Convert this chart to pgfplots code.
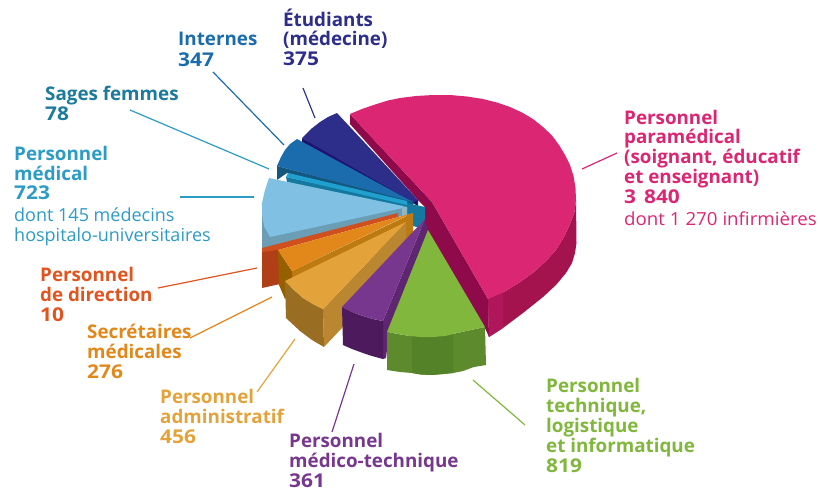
\documentclass[border=0pt]{standalone}
\usepackage{pgfplots}
\pgfplotsset{compat=1.18}
\usepackage{fontspec}
\setmainfont{Open Sans}
\newfontfamily\numfont[FakeStretch=1.1,BoldFont={Open Sans Bold}]{Open Sans}
\newfontfamily\widefont[FakeStretch=1.04]{Open Sans}
\definecolor{cpink}{HTML}{DA2673}
\definecolor{cpinkw}{HTML}{8E0A4B}
\definecolor{cpinko}{HTML}{A5134F}
\definecolor{cpinkl}{HTML}{B0165A}
\definecolor{cgreen}{HTML}{80B73C}
\definecolor{cgreenw}{HTML}{548228}
\definecolor{cgreenl}{HTML}{5C8A2C}
\definecolor{cpurple}{HTML}{78378E}
\definecolor{cpurplew}{HTML}{4D1A5E}
\definecolor{cpurples}{HTML}{5E2570}
\definecolor{cadm}{HTML}{E4A33A}
\definecolor{cadmw}{HTML}{996D22}
\definecolor{cadms}{HTML}{BA8730}
\definecolor{csec}{HTML}{E2881B}
\definecolor{csecw}{HTML}{966000}
\definecolor{csecs}{HTML}{BC7A10}
\definecolor{cdir}{HTML}{CF4F1E}
\definecolor{cdirw}{HTML}{B03F17}
\definecolor{cmed}{HTML}{80C1E3}
\definecolor{cmedw}{HTML}{6B9DB5}
\definecolor{ccap}{HTML}{8FB5C9}
\definecolor{csf}{HTML}{1FA0CF}
\definecolor{csft}{HTML}{14789F}
\definecolor{cint}{HTML}{1B6CAD}
\definecolor{cintw}{HTML}{14587F}
\definecolor{cetu}{HTML}{2D2D8A}
\definecolor{cetuw}{HTML}{1E1470}
\definecolor{tmed}{HTML}{2C9BC5}
\definecolor{tsf}{HTML}{1C7A9C}
\definecolor{tint}{HTML}{1B6CAD}
\definecolor{tdir}{HTML}{E2541F}
\definecolor{tsec}{HTML}{E2881B}
\newcommand{\B}[3]{\node[anchor=base west,inner sep=0pt,text=#1,font=\fontsize{18.8}{20}\selectfont\bfseries] at (axis cs:#2) {#3};}
\newcommand{\N}[3]{\node[anchor=base west,inner sep=0pt,text=#1,font=\fontsize{19}{20}\numfont\bfseries] at (axis cs:#2) {#3};}
\newcommand{\R}[3]{\node[anchor=base west,inner sep=0pt,text=#1,font=\fontsize{18}{20}\selectfont] at (axis cs:#2) {#3};}
\tikzset{lead/.style={line width=1.2pt}}
\begin{document}
\begin{tikzpicture}[x=1pt,y=1pt]
\useasboundingbox (0,0) rectangle (820,491);
\begin{axis}[at={(0,0)},anchor=south west,width=820pt,height=491pt,scale only axis,
  xmin=0,xmax=820,ymin=0,ymax=491,y dir=reverse,hide axis,clip=false,no markers,
  every axis plot/.append style={draw=none,line width=0pt}]
% pink
\addplot[fill=cpinkw] coordinates {(350,114)(432,202)(432,236)(424,236)(425,207)(418,200)(350,124)} --cycle;
\addplot[fill=cpinkw] coordinates {(432,202)(488,299)(489,337)(485,328)(426,232)} --cycle;
\addplot[fill=cpinko] coordinates {(488,299)(504,292)(520,282)(534,272)(546,261)(556,250)(564,237)(570,224)(574.5,212)(576,200)(576.5,243)(575,253)(572,263)(566,273)(556,285)(543,297)(523,313)(503,328)(489,337)} --cycle;
\addplot[fill=cpinkl] coordinates {(488,299)(503,292)(503,328)(489,337)} --cycle;
\addplot[fill=cpink] coordinates {(350,114)(362,109)(375,104.5)(388,100.5)(400,98)(416,96)(433,95)(450,95)(467,96.5)(483,99)(497,102.5)(510,107)(522,112.5)(533,119)(543,127)(552,135.5)(559,145)(565,155)(570,165)(573.5,176)(575.5,188)(576,200)(574.5,212)(570,224)(564,237)(556,250)(546,261)(534,272)(520,282)(504,292)(488,299)(432,202)} --cycle;
% etudiants
\addplot[fill=cetuw] coordinates {(302,138)(302,142)(418,206)(418,200)} --cycle;
\addplot[fill=cetu] coordinates {(337,113)(328,117)(320,122)(311,129)(302,138)(413,202)(418,200)} --cycle;
% internes
\addplot[fill=cintw] coordinates {(277,166)(277,180)(287,173)(413,205)(413,201)} --cycle;
\addplot[fill=cint] coordinates {(297,139)(290,144)(285,150)(281,157)(277,166)(413,202)} --cycle;
% sages femmes
\addplot[fill=csft] coordinates {(286,177)(425,207)(425,229)(413,226)(403,210)(287,182)} --cycle;
\addplot[fill=csf] coordinates {(288,173)(407,201)(407,205)(286,177)} --cycle;
% medical
\addplot[fill=cmedw] coordinates {(262,203)(262,249)(398,217)(407,214)(407,207)} --cycle;
\addplot[fill=ccap] coordinates {(402,206)(407,207)(407,216)(402,217)} --cycle;
\addplot[fill=cmed] coordinates {(269,178)(265,190)(262,203)(262,215)(264,226)(270,237)(403,208)(403,206)} --cycle;
% direction
\addplot[fill=cdirw] coordinates {(262,249)(280,250)(280,284)(262,288)} --cycle;
\addplot[fill=cdir] coordinates {(262,248)(398,213)(398,217)(278,250)(262,252)} --cycle;
% secretaires
\addplot[fill=csecs] coordinates {(413,213)(413,232)(406,242)(292,278)(292,271)} --cycle;
\addplot[fill=csecw] coordinates {(278,250)(292,271)(292,285)(285,299)(279,285)} --cycle;
\addplot[fill=csec] coordinates {(278,250)(292,271)(406,216)(413,213)} --cycle;
% administratif
\addplot[fill=cadms] coordinates {(323,309)(406,222)(406,242)(342,328)(324,347)} --cycle;
\addplot[fill=cadmw] coordinates {(285,281)(294,290)(303,298)(313,304)(323,309)(324,347)(312,340)(300,331)(286,318)} --cycle;
\addplot[fill=cadm] coordinates {(285,281)(294,290)(303,298)(313,304)(323,309)(406,222)} --cycle;
% medico-technique
\addplot[fill=cpurples] coordinates {(383,321)(425,219)(428,232)(389,334)(386,358)(383,359)} --cycle;
\addplot[fill=cpurplew] coordinates {(342,307)(352,312)(363,316)(373,319)(383,321)(383,359)(372,356)(363,353)(352,349)(343,345)} --cycle;
\addplot[fill=cpurple] coordinates {(342,307)(352,312)(363,316)(373,319)(383,321)(425,219)} --cycle;
% technique
\addplot[fill=cgreenl] coordinates {(387,332)(398,334)(410,336)(421,337)(432,337)(445,336)(457,333)(471,330)(485,327)(486,365)(474,367)(463,371)(453,373)(443,374)(432,375)(421,374.5)(412,373)(400,372)(387,370)} --cycle;
\addplot[fill=cgreenw] coordinates {(412,336)(432,337)(453,334)(453,373)(443,374)(432,375)(421,374.5)(412,373)} --cycle;
\addplot[fill=cgreen] coordinates {(428,230)(485,327)(471,330)(457,333)(445,336)(432,337)(421,337)(410,336)(398,334)(387,332)} --cycle;
% leader lines
\addplot[draw=cetu,lead] coordinates {(303,88)(315,118)};
\addplot[draw=cint,lead] coordinates {(213,72)(284,145)};
\addplot[draw=tmed,lead] coordinates {(130,110)(269,169)};
\addplot[draw=tmed,lead] coordinates {(180,197)(254,197)};
\addplot[draw=tdir,lead] coordinates {(158,288)(257,268)};
\addplot[draw=tsec,lead] coordinates {(190,338)(272,297)};
\addplot[draw=cadm,lead] coordinates {(257,392)(295,339)};
\addplot[draw=cpurple,lead] coordinates {(332,432)(354,364)};
\addplot[draw=cgreen,lead] coordinates {(525,425)(473,380)};
\addplot[draw=cpink,lead] coordinates {(582,169)(617,153)};
% labels
\B{cetu}{283,26}{Étudiants}
\B{cetu}{283,45}{(médecine)}
\N{cetu}{283,65}{375}
\B{tint}{178,45}{Internes}
\N{tint}{178,66}{347}
\B{tsf}{45,100}{Sages femmes}
\N{tsf}{45,120}{78}
\B{tmed}{14,160}{Personnel}
\B{tmed}{14,180}{médical}
\N{tmed}{14,199}{723}
\R{tmed}{14,221}{dont 145 médecins}
\R{tmed}{14,241}{hospitalo-universitaires}
\B{tdir}{40,281}{Personnel}
\B{tdir}{40,301}{de direction}
\N{tdir}{40,321}{10}
\B{tsec}{87,338}{Secrétaires}
\B{tsec}{87,358}{médicales}
\N{tsec}{87,378}{276}
\B{cadm}{160,403}{Personnel}
\B{cadm}{160,423}{administratif}
\N{cadm}{160,443}{456}
\B{cpurple}{289,447}{Personnel}
\B{cpurple}{289,467}{médico-technique}
\N{cpurple}{289,487}{361}
\B{cgreen}{546,392}{Personnel}
\B{cgreen}{546,412}{technique,}
\B{cgreen}{546,432}{logistique}
\B{cgreen}{546,452}{et informatique}
\N{cgreen}{546,472}{819}
\B{cpink}{624,124}{Personnel}
\B{cpink}{624,143}{paramédical}
\B{cpink}{624,163}{(soignant, éducatif}
\B{cpink}{624,183}{et enseignant)}
\N{cpink}{624,203}{3\hspace{8pt}840}
\node[anchor=base west,inner sep=0pt,text=cpink,font=\fontsize{18}{20}\widefont] at (axis cs:624,225) {dont 1 270 infirmières};
\end{axis}
\end{tikzpicture}
\end{document}
